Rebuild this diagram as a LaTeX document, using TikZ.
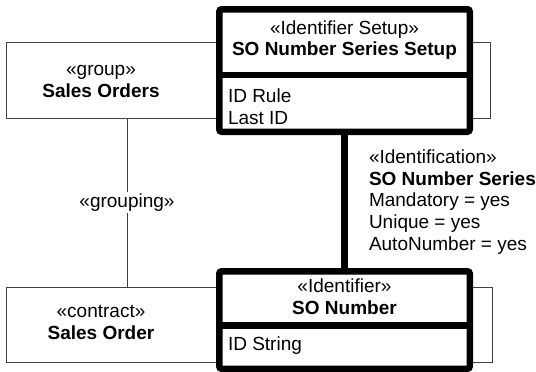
\documentclass[tikz,border=0pt]{standalone}
\usepackage{fontspec}
\setmainfont{Liberation Sans}
\begin{document}
\begin{tikzpicture}[x=1pt,y=-1pt,
  every node/.style={font=\fontsize{19}{21.75}\selectfont, inner sep=0pt, outer sep=0pt},
  thinbox/.style={draw=black!75, line width=1pt, fill=white},
  thickbox/.style={draw=black, line width=6.5pt, fill=white, rounded corners=2.5pt},
  thickline/.style={draw=black, line width=6.5pt},
  thinline/.style={draw=black!75, line width=1pt},
  ctext/.style={align=center},
  ltext/.style={align=left, anchor=west},
  ]
\useasboundingbox (0,0) rectangle (536,372);
% background thin boxes
\node[thinbox, minimum width=484pt, minimum height=76pt] (grp) at (248,80) {};
\node[thinbox, minimum width=486pt, minimum height=75pt] (so) at (249,324.5) {};
\node[ctext] (grpt) at (101,81.5) {«group»\\\textbf{Sales Orders}};
\node[ctext] (sot) at (101,322.5) {«contract»\\\textbf{Sales Order}};
% grouping connector
\coordinate (gx) at (127,0);
\draw[thinline] (grp.south -| gx) -- node[fill=white, inner sep=2pt] (glab) {«grouping»} (so.north -| gx);
% thick boxes
\node[thickbox, minimum width=250.5pt, minimum height=122.5pt] (setup) at (344.5,70.5) {};
\node[thickbox, minimum width=250.5pt, minimum height=97.5pt] (ident) at (344.5,320) {};
\coordinate (sdiv) at (0,75);
\coordinate (idiv) at (0,325.5);
\draw[thickline] (setup.west |- sdiv) -- (setup.east |- sdiv);
\draw[thickline] (ident.west |- idiv) -- (ident.east |- idiv);
\draw[thickline] (setup.south) -- (ident.north);
% texts
\node[ctext] (setupt) at (344.5,40) {«Identifier Setup»\\\textbf{SO Number Series Setup}};
\node[ltext] (setupa) at (228,106.5) {ID Rule\\Last ID};
\node[ctext] (identt) at (344.5,297) {«Identifier»\\\textbf{SO Number}};
\node[ltext] (identa) at (228,346) {ID String};
\node[ltext] (conlab) at (369,202) {«Identification»\\\textbf{SO Number Series}\\Mandatory = yes\\Unique = yes\\AutoNumber = yes};
\end{tikzpicture}
\end{document}
